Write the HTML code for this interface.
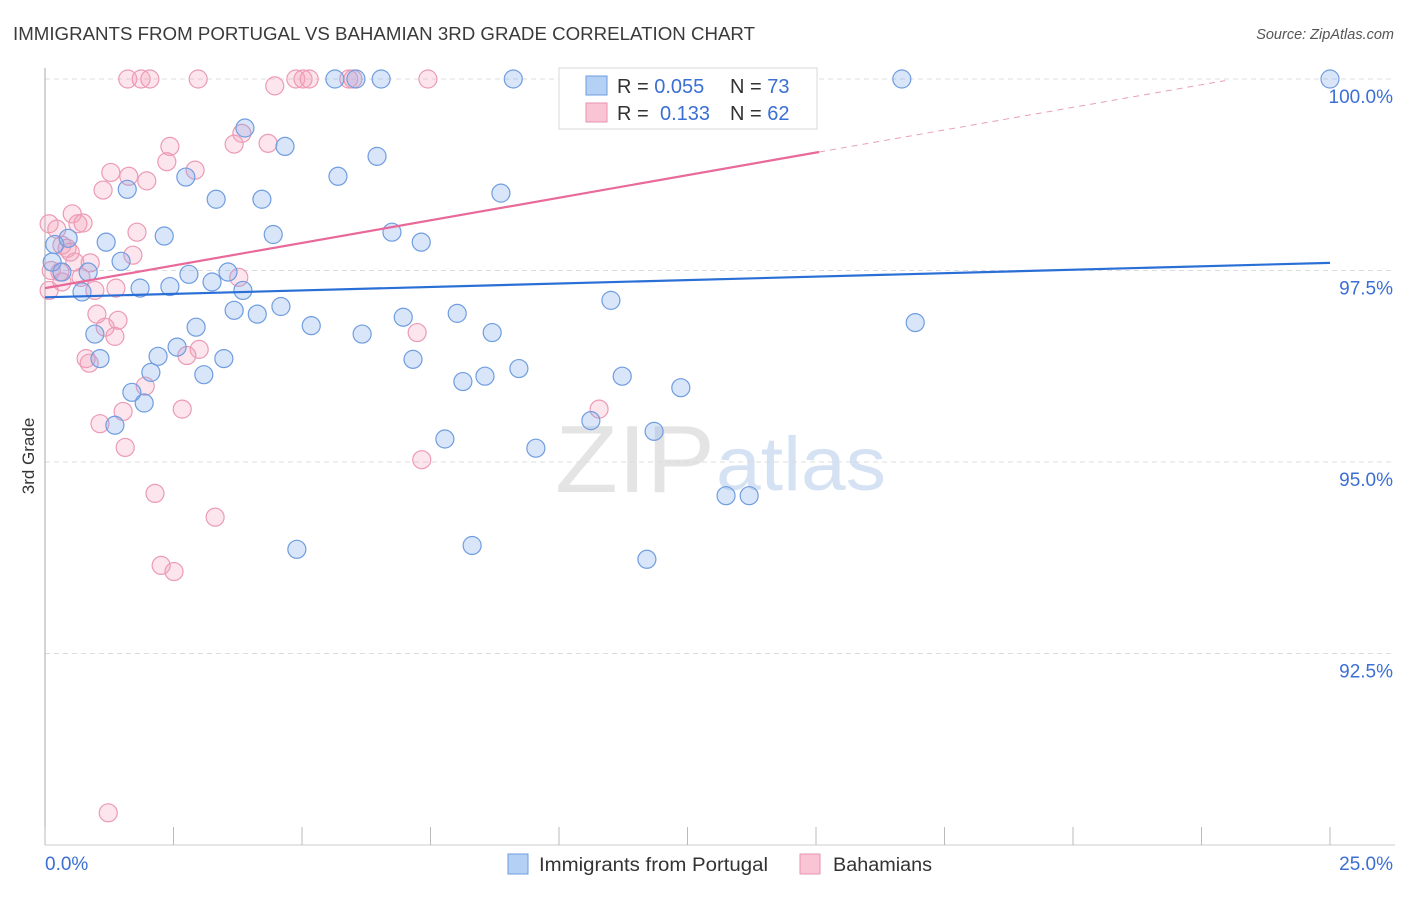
<!DOCTYPE html>
<html><head><meta charset="utf-8"><style>
body{margin:0;background:#fff;font-family:"Liberation Sans",sans-serif}
svg text{font-family:"Liberation Sans",sans-serif}
</style></head><body>
<svg id="chart" width="1406" height="892" viewBox="0 0 1406 892" xmlns="http://www.w3.org/2000/svg">
<text x="13" y="40" font-size="18" fill="#3a3a3a" textLength="742" lengthAdjust="spacingAndGlyphs">IMMIGRANTS FROM PORTUGAL VS BAHAMIAN 3RD GRADE CORRELATION CHART</text>
<text x="1394" y="39" font-size="14.5" fill="#555" text-anchor="end" font-style="italic">Source: ZipAtlas.com</text>
<g>
<text x="555" y="492" font-size="96" fill="#e4e4e4" font-family="Liberation Serif" textLength="160" lengthAdjust="spacingAndGlyphs">ZIP</text>
<text x="716" y="490" font-size="76" fill="#d5e2f3" textLength="170" lengthAdjust="spacingAndGlyphs">atlas</text>
</g>
<g id="grid"></g>
<g id="axes"></g>
<g id="pts"></g>
<g id="trend"></g>
<text transform="translate(34,456) rotate(-90)" font-size="17" fill="#333" text-anchor="middle">3rd Grade</text>
<g>
<rect x="559" y="68" width="258" height="61" fill="#fff" stroke="#d8d8d8"/>
<rect x="586" y="76" width="21" height="19" fill="#b5d0f5" stroke="#6d9be0"/>
<rect x="586" y="103" width="21" height="19" fill="#f9c5d5" stroke="#ea92b0"/>
<text x="617" y="93" font-size="20" fill="#333">R = <tspan fill="#3b6fd4">0.055</tspan><tspan x="730">N = </tspan><tspan fill="#3b6fd4">73</tspan></text>
<text x="617" y="120" font-size="20" fill="#333">R = <tspan x="660" fill="#3b6fd4">0.133</tspan><tspan x="730">N = </tspan><tspan fill="#3b6fd4">62</tspan></text>
</g>
<g>
<rect x="508" y="854" width="20" height="20" fill="#b5d0f5" stroke="#6d9be0"/>
<text x="539" y="871" font-size="19" fill="#333" textLength="229" lengthAdjust="spacingAndGlyphs">Immigrants from Portugal</text>
<rect x="800" y="854" width="20" height="20" fill="#f9c5d5" stroke="#ea92b0"/>
<text x="833" y="871" font-size="19" fill="#333" textLength="99" lengthAdjust="spacingAndGlyphs">Bahamians</text>
</g>
</svg>
<script>
const blueX=[25.0,16.67,9.11,6.54,6.05,5.64,13.85,14.03,3.89,4.67,6.46,2.74,5.70,1.60,8.87,3.33,4.22,2.32,4.44,6.75,7.32,1.19,0.19,0.45,1.48,0.14,0.33,0.84,2.80,3.56,3.25,1.85,2.43,3.85,0.72,4.59,3.68,4.13,11.01,5.18,2.94,6.97,8.02,6.17,8.70,16.93,0.97,1.07,2.20,2.57,3.48,7.16,2.06,3.09,8.13,8.56,9.22,11.23,12.37,1.69,1.93,1.36,7.78,9.55,10.62,11.85,13.25,13.70,4.90,8.31,11.71];
const blueY=[100,100,100,100,100,100,100,100,99.36,99.12,98.99,98.72,98.73,98.56,98.51,98.43,98.43,97.95,97.97,98.00,97.87,97.87,97.84,97.92,97.62,97.61,97.48,97.48,97.45,97.48,97.35,97.27,97.29,97.24,97.22,97.03,96.98,96.93,97.11,96.78,96.76,96.89,96.94,96.67,96.69,96.82,96.67,96.35,96.38,96.50,96.35,96.34,96.17,96.14,96.05,96.12,96.22,96.12,95.97,95.91,95.77,95.48,95.30,95.18,95.54,95.40,94.56,94.56,93.86,93.91,93.73];
const pinkX=[1.61,1.87,2.04,2.98,4.47,4.88,5.02,5.14,5.91,5.99,7.45,3.83,3.68,4.34,2.43,2.37,2.92,1.28,1.63,1.98,1.13,0.08,0.23,0.53,0.64,0.74,0.33,0.43,1.79,0.58,0.88,1.71,0.12,0.70,0.33,3.77,1.38,0.97,0.08,1.01,1.42,1.17,1.36,3.00,2.76,0.80,0.86,7.24,1.95,1.52,2.67,10.78,1.07,1.56,7.33,2.14,3.31,2.26,2.51,1.23,0.29,0.49];
const pinkY=[100,100,100,100,99.91,100,100,100,100,100,100,99.29,99.15,99.16,99.12,98.92,98.81,98.78,98.73,98.67,98.55,98.11,98.04,98.24,98.11,98.12,97.83,97.79,98.00,97.61,97.60,97.70,97.50,97.41,97.35,97.41,97.27,97.24,97.24,96.93,96.85,96.76,96.64,96.47,96.39,96.35,96.29,96.69,95.99,95.66,95.69,95.69,95.50,95.19,95.03,94.59,94.28,93.65,93.57,90.42,97.48,97.74];
const blueTrend=[97.15,97.60];   // y at x=0, x=25
const pinkTrend=[97.27,0.118];   // intercept, slope per %
const yTicks=[100,97.5,95,92.5];
const yTickLabels=["100.0%","97.5%","95.0%","92.5%"];
const xTicks=[0,2.5,5,7.5,10,12.5,15,17.5,20,22.5,25];

const NS="http://www.w3.org/2000/svg";
const X=v=>45+v*51.4;
const Y=v=>79+(100-v)*76.6;
function mk(tag,attrs,parent){const e=document.createElementNS(NS,tag);for(const k in attrs)e.setAttribute(k,attrs[k]);parent.appendChild(e);return e;}
const grid=document.getElementById('grid'),axes=document.getElementById('axes'),pts=document.getElementById('pts'),trend=document.getElementById('trend');
yTicks.forEach((t,i)=>{
  const l=mk('line',{x1:45,x2:1395,y1:Y(t),y2:Y(t),stroke:'#dcdcdc','stroke-dasharray':'5,4'},grid);
  
  
  const tx=mk('text',{x:1393,y:Y(t)+24,'font-size':19,fill:'#3b6fd4','text-anchor':'end'},axes);
  tx.textContent=yTickLabels[i];
  
  
});
const ya=mk('line',{x1:45,x2:45,y1:68,y2:845,stroke:'#aaa'},axes);


const xa=mk('line',{x1:45,x2:1395,y1:845,y2:845,stroke:'#ccc'},axes);


xTicks.forEach(t=>{
  const l=mk('line',{x1:X(t),x2:X(t),y1:827,y2:845,stroke:'#bbb'},axes);
  
  
});
const xl0=mk('text',{x:45,y:870,'font-size':19,fill:'#3b6fd4'},axes);xl0.textContent='0.0%';


const xl1=mk('text',{x:1393,y:870,'font-size':19,fill:'#3b6fd4','text-anchor':'end'},axes);xl1.textContent='25.0%';


pinkX.forEach((x,i)=>{
  const c=mk('circle',{cx:X(x),cy:Y(pinkY[i]),r:9,fill:'rgba(244,160,188,0.28)',stroke:'#ec9ab5','stroke-width':1.2},pts);
  
  
});
blueX.forEach((x,i)=>{
  const c=mk('circle',{cx:X(x),cy:Y(blueY[i]),r:9,fill:'rgba(130,170,235,0.3)',stroke:'#6f9de0','stroke-width':1.2},pts);
  
  
});
const bl=mk('line',{x1:X(0),y1:Y(blueTrend[0]),x2:X(25),y2:Y(blueTrend[1]),stroke:'#2a6fd6','stroke-width':2.2},trend);


const pe=15.06, pd=22.96;
const pl=mk('line',{x1:X(0),y1:Y(pinkTrend[0]),x2:X(pe),y2:Y(pinkTrend[0]+pinkTrend[1]*pe),stroke:'#e8699a','stroke-width':2.2},trend);


const pdl=mk('line',{x1:X(pe),y1:Y(pinkTrend[0]+pinkTrend[1]*pe),x2:X(pd),y2:Y(pinkTrend[0]+pinkTrend[1]*pd),stroke:'#e8a0bb','stroke-width':1,'stroke-dasharray':'6,5'},trend);


</script>
</body></html>
